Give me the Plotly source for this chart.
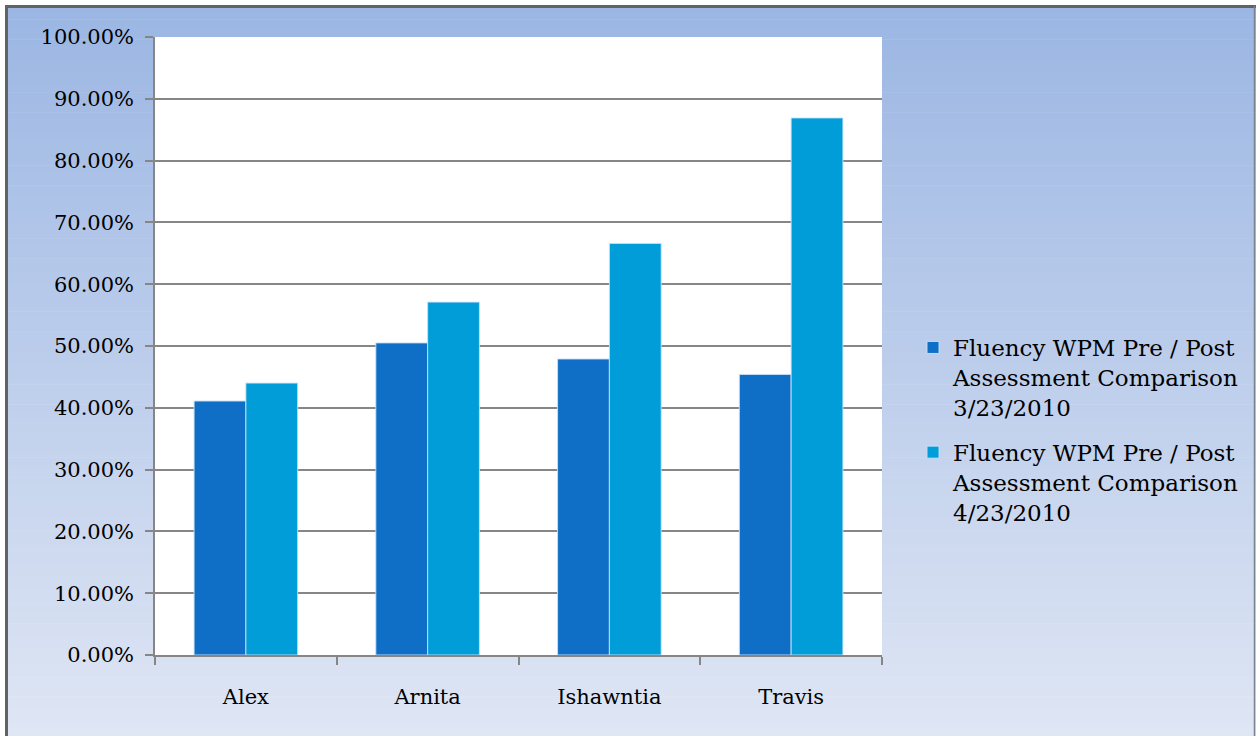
import plotly.graph_objects as go

students = ["Alex", "Arnita", "Ishawntia", "Travis"]
pre_scores = [0.411, 0.505, 0.479, 0.454]
post_scores = [0.440, 0.571, 0.666, 0.869]
series_names = [
    "Fluency WPM Pre / Post<br>Assessment Comparison<br>3/23/2010",
    "Fluency WPM Pre / Post<br>Assessment Comparison<br>4/23/2010",
]
y_ticks = [i / 10 for i in range(11)]

W, H = 1256, 736
L, R, T, B = 155, 882, 37, 655
pw, ph = R - L, B - T

def px_x(p):
    return (p - L) / pw

def px_y(p):
    return (B - p) / ph

FONT = "DejaVu Serif"

fig = go.Figure()
fig.add_trace(go.Bar(x=students, y=pre_scores, name=series_names[0], legendgroup="a",
                     marker=dict(color="#0f6fc6", line=dict(color="rgba(200,225,250,0.9)", width=1))))
fig.add_trace(go.Bar(x=students, y=post_scores, name=series_names[1], legendgroup="b",
                     marker=dict(color="#009dd9", line=dict(color="rgba(200,225,250,0.9)", width=1))))

shapes = []
top_c = (155, 182, 227)
bot_c = (223, 230, 244)
y_start, y_end = 6, 736
n = 110
step = (y_end - y_start) / n
for i in range(n):
    t = (i + 0.5) / n
    c = tuple(round(top_c[k] + (bot_c[k] - top_c[k]) * t) for k in range(3))
    ya = y_start + i * step
    yb = ya + step + 0.6
    shapes.append(dict(type="rect", xref="paper", yref="paper", layer="below",
                       x0=px_x(6), x1=px_x(1256), y0=px_y(yb), y1=px_y(ya),
                       line=dict(width=0), fillcolor="rgb(%d,%d,%d)" % c))
# plot area
shapes.append(dict(type="rect", xref="paper", yref="paper", layer="below",
                   x0=0, x1=1, y0=0, y1=1, line=dict(width=0), fillcolor="white"))
# frame lines
shapes.append(dict(type="line", xref="paper", yref="paper", layer="above",
                   x0=px_x(6.5), x1=px_x(6.5), y0=px_y(6), y1=px_y(740),
                   line=dict(color="#5f6366", width=3)))
shapes.append(dict(type="line", xref="paper", yref="paper", layer="above",
                   x0=px_x(5), x1=px_x(1256), y0=px_y(6.5), y1=px_y(6.5),
                   line=dict(color="#5f6366", width=3)))
shapes.append(dict(type="line", xref="paper", yref="paper", layer="above",
                   x0=px_x(1254.5), x1=px_x(1254.5), y0=px_y(6), y1=px_y(740),
                   line=dict(color="#7a8490", width=1.5)))

fig.update_layout(
    width=W, height=H,
    margin=dict(l=L, r=W - R, t=T, b=H - B, pad=0),
    paper_bgcolor="white",
    plot_bgcolor="rgba(0,0,0,0)",
    barmode="group",
    bargap=0.43,
    bargroupgap=0,
    font=dict(family=FONT, size=21, color="black"),
    shapes=shapes,
    legend=dict(x=px_x(913), xanchor="left", y=px_y(430), yanchor="middle",
                bgcolor="rgba(0,0,0,0)", font=dict(family=FONT, size=23, color="black"),
                tracegroupgap=12, itemwidth=30, valign="top"),
    xaxis=dict(showline=True, linecolor="#868686", linewidth=1.5,
               ticks="outside", ticklen=8, tickcolor="#868686", tickwidth=1.5,
               tickson="boundaries", ticklabelstandoff=22,
               tickfont=dict(family=FONT, size=21, color="black")),
    yaxis=dict(range=[0, 1], tickvals=y_ticks, tickformat=".2%",
               showline=True, linecolor="#868686", linewidth=1.5,
               showgrid=True, gridcolor="#868686", gridwidth=1.5,
               ticks="outside", ticklen=8, tickcolor="#868686", tickwidth=1.5,
               ticklabelstandoff=7, zeroline=False,
               tickfont=dict(family=FONT, size=21, color="black")),
)

fig.write_html("out.html")
